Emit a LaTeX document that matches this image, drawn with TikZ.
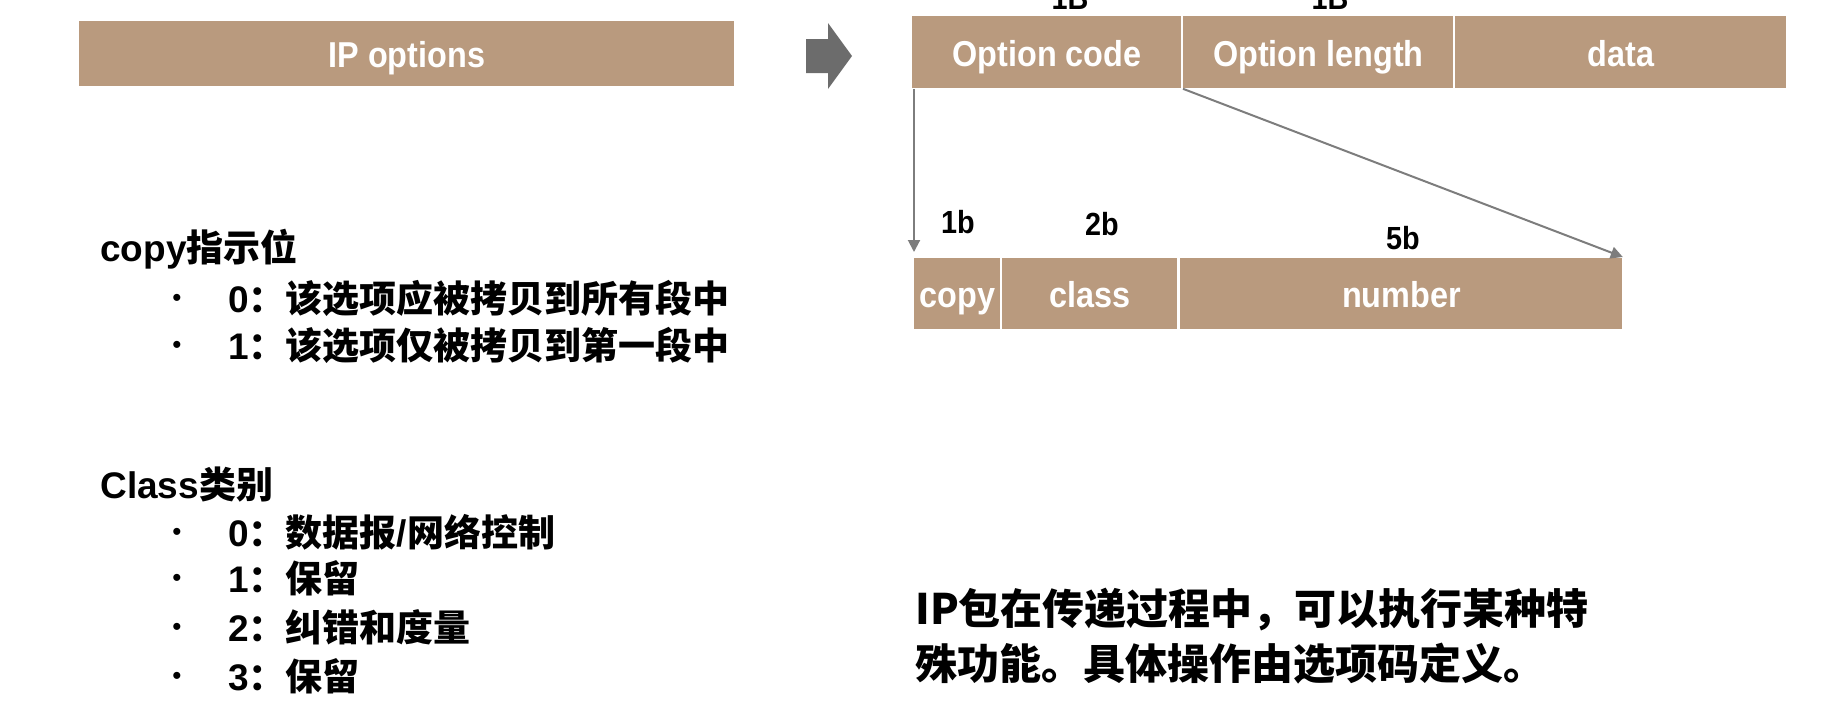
\documentclass[tikz,border=0pt]{standalone}
\usepackage{fontspec}
\setmainfont{Liberation Sans}
\newfontfamily\cjk{Noto Sans CJK SC}
\newfontfamily\cellfont{Liberation Sans}[FakeStretch=0.9]
\usetikzlibrary{arrows.meta}
\definecolor{fieldtan}{RGB}{185,154,126}
\definecolor{linkgray}{RGB}{125,125,125}
\definecolor{pointergray}{RGB}{108,108,108}

\begin{document}
\begin{tikzpicture}[x=0.5pt,y=-0.5pt,
  field/.style={fill=fieldtan, draw=none, inner sep=0pt, text=white,
    font=\cellfont\bfseries\fontsize{18}{20}\selectfont,
    text height=14pt, text depth=0pt, anchor=north west},
  bitlabel/.style={font=\cellfont\bfseries\fontsize{16}{18}\selectfont, anchor=base, inner sep=0pt},
  heading/.style={anchor=west, inner sep=0pt, font=\bfseries\fontsize{18.5}{22}\selectfont},
  entry/.style={anchor=west, inner sep=0pt, font=\bfseries\fontsize{18.5}{22}\selectfont},
  dot/.style={inner sep=0pt, font=\fontsize{13}{13}\selectfont},
  link/.style={draw=linkgray, line width=1pt, -{Triangle[length=6pt,width=6pt]}},
  note/.style={anchor=west, inner sep=0pt, font=\cjk\bfseries\fontsize{21}{27}\selectfont}
]
\useasboundingbox (0,0) rectangle (1824,708);

% whole options field
\node[field, minimum width=327.5pt, minimum height=32.5pt] (ipopt) at (79,21) {IP options};

% expansion pointer
\fill[pointergray] (806,39) -- (828,39) -- (828,23) -- (852,56) -- (828,89) -- (828,73) -- (806,73) -- cycle;

% option layout
\node[field, minimum width=134.5pt, minimum height=36pt] (ocode) at (912,16) {Option code};
\node[field, minimum width=135pt,   minimum height=36pt] (olen)  at (1183,16) {Option length};
\node[field, minimum width=165.5pt, minimum height=36pt] (odata) at (1455,16) {data};
\node[bitlabel] (szcode) at (1070,9) {1B};
\node[bitlabel] (szlen)  at (1330,9) {1B};

% option code bits
\node[field, minimum width=43pt,   minimum height=35.5pt] (fcopy)   at (914,258)  {copy};
\node[field, minimum width=87.5pt, minimum height=35.5pt] (fclass)  at (1002,258) {class};
\node[field, minimum width=221pt,  minimum height=35.5pt] (fnumber) at (1180,258) {number};
\node[bitlabel] (szcopy)   at (958,233)  {1b};
\node[bitlabel] (szclass)  at (1102,235) {2b};
\node[bitlabel] (sznumber) at (1403,249) {5b};

\draw[link] (fcopy.north west |- ocode.south) -- ([yshift=3pt]fcopy.north west);
\draw[link] (olen.south west) -- ([yshift=0.5pt]fnumber.north east);

% copy flag
\node[heading] (hcopy) at (100,249) {copy{\cjk 指示位}};
\node[dot] (b1) at (177,300) {•};
\node[entry] (c0) at (228,298) {0{\cjk ：该选项应被拷贝到所有段中}};
\node[dot] (b2) at (177,347) {•};
\node[entry] (c1) at (228,345) {1{\cjk ：该选项仅被拷贝到第一段中}};

% class values
\node[heading] (hclass) at (100,485) {Class{\cjk 类别}};
\node[dot] (b3) at (177,534) {•};
\node[entry] (k0) at (228,532) {0{\cjk ：数据报}/{\cjk 网络控制}};
\node[dot] (b4) at (177,580) {•};
\node[entry] (k1) at (228,578) {1{\cjk ：保留}};
\node[dot] (b5) at (177,629) {•};
\node[entry] (k2) at (228,627) {2{\cjk ：纠错和度量}};
\node[dot] (b6) at (177,678) {•};
\node[entry] (k3) at (228,676) {3{\cjk ：保留}};

% summary
\node[note] (sum1) at (915,610) {IP包在传递过程中，可以执行某种特};
\node[note] (sum2) at (915,664) {殊功能。具体操作由选项码定义。};
\end{tikzpicture}
\end{document}
